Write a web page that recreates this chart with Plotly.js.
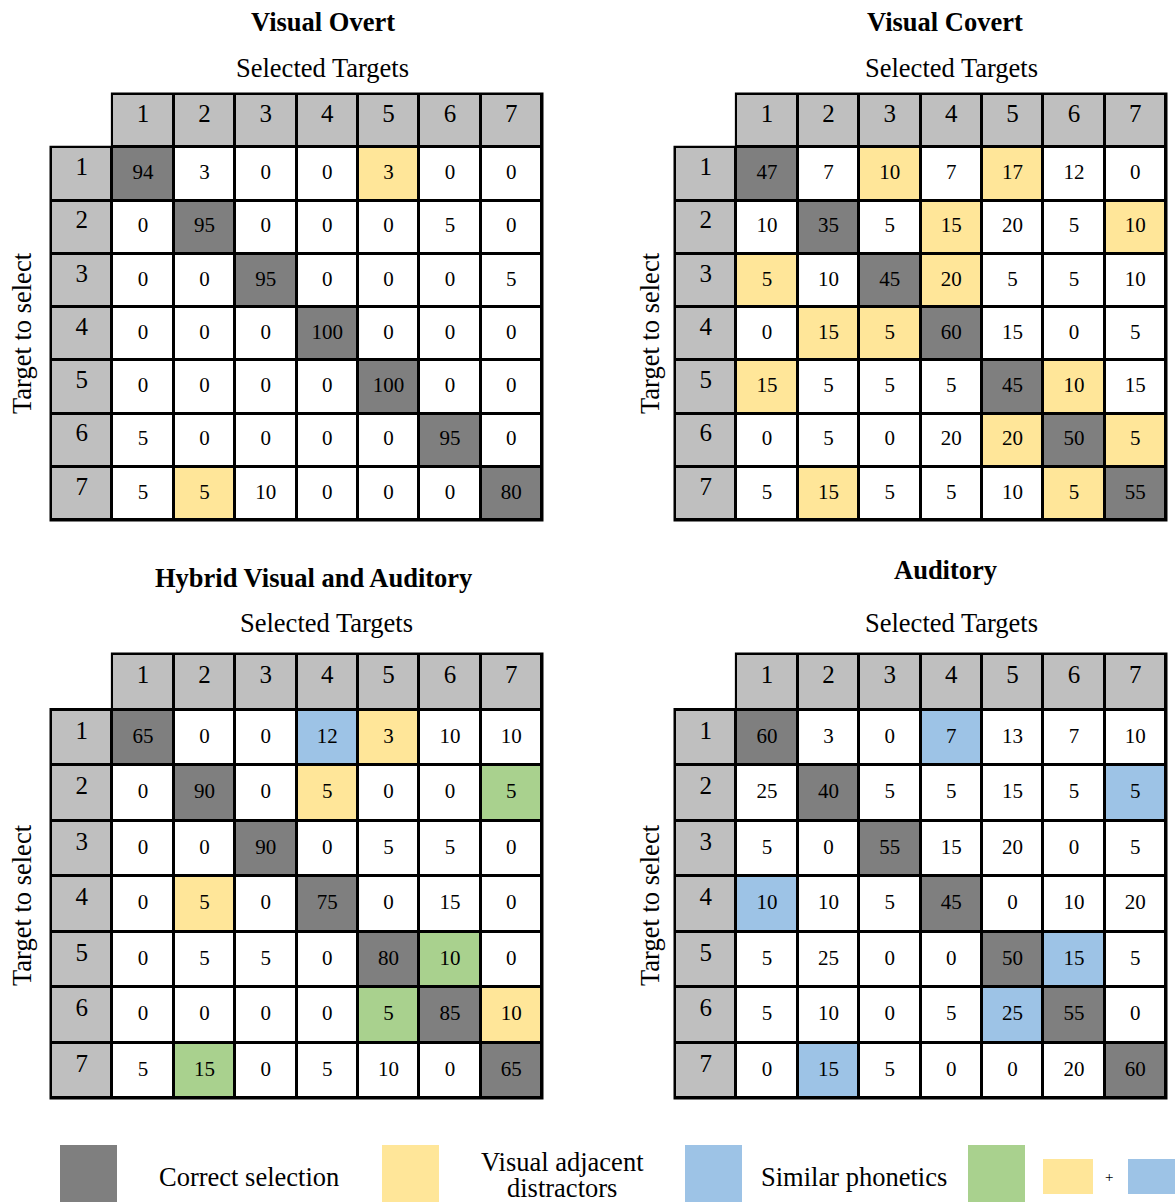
<!DOCTYPE html>
<html>
<head>
<meta charset="utf-8">
<script src="https://cdn.plot.ly/plotly-3.0.1.min.js"></script>
<style>html,body{margin:0;padding:0;background:#fff;}#chart{width:1175px;height:1202px;}</style>
</head>
<body>
<div id="chart"></div>
<script>
// ---------------- DATA ----------------
const selectedTargets = ['1','2','3','4','5','6','7'];
const targetsToSelect = ['1','2','3','4','5','6','7'];

const titles = ['Visual Overt', 'Visual Covert', 'Hybrid Visual and Auditory', 'Auditory'];

const visualOvert = [
  [94, 3, 0, 0, 3, 0, 0],
  [0, 95, 0, 0, 0, 5, 0],
  [0, 0, 95, 0, 0, 0, 5],
  [0, 0, 0, 100, 0, 0, 0],
  [0, 0, 0, 0, 100, 0, 0],
  [5, 0, 0, 0, 0, 95, 0],
  [5, 5, 10, 0, 0, 0, 80]
];
const visualCovert = [
  [47, 7, 10, 7, 17, 12, 0],
  [10, 35, 5, 15, 20, 5, 10],
  [5, 10, 45, 20, 5, 5, 10],
  [0, 15, 5, 60, 15, 0, 5],
  [15, 5, 5, 5, 45, 10, 15],
  [0, 5, 0, 20, 20, 50, 5],
  [5, 15, 5, 5, 10, 5, 55]
];
const hybrid = [
  [65, 0, 0, 12, 3, 10, 10],
  [0, 90, 0, 5, 0, 0, 5],
  [0, 0, 90, 0, 5, 5, 0],
  [0, 5, 0, 75, 0, 15, 0],
  [0, 5, 5, 0, 80, 10, 0],
  [0, 0, 0, 0, 5, 85, 10],
  [5, 15, 0, 5, 10, 0, 65]
];
const auditory = [
  [60, 3, 0, 7, 13, 7, 10],
  [25, 40, 5, 5, 15, 5, 5],
  [5, 0, 55, 15, 20, 0, 5],
  [10, 10, 5, 45, 0, 10, 20],
  [5, 25, 0, 0, 50, 15, 5],
  [5, 10, 0, 5, 25, 55, 0],
  [0, 15, 5, 0, 0, 20, 60]
];

// cell categories: C = correct, V = visual adjacent, P = similar phonetics, H = visual + phonetic, '' = none
const marksOvert = [
  ['C','','','','V','',''],
  ['','C','','','','',''],
  ['','','C','','','',''],
  ['','','','C','','',''],
  ['','','','','C','',''],
  ['','','','','','C',''],
  ['','V','','','','','C']
];
const marksCovert = [
  ['C','','V','','V','',''],
  ['','C','','V','','','V'],
  ['V','','C','V','','',''],
  ['','V','V','C','','',''],
  ['V','','','','C','V',''],
  ['','','','','V','C','V'],
  ['','V','','','','V','C']
];
const marksHybrid = [
  ['C','','','P','V','',''],
  ['','C','','V','','','H'],
  ['','','C','','','',''],
  ['','V','','C','','',''],
  ['','','','','C','H',''],
  ['','','','','H','C','V'],
  ['','H','','','','','C']
];
const marksAuditory = [
  ['C','','','P','','',''],
  ['','C','','','','','P'],
  ['','','C','','','',''],
  ['P','','','C','','',''],
  ['','','','','C','P',''],
  ['','','','','P','C',''],
  ['','P','','','','','C']
];

const legendLabels = ['Correct selection', 'Visual adjacent', 'distractors', 'Similar phonetics', '+'];

// ---------------- STYLE ----------------
const W = 1175, H = 1202;
const FONT = 'Liberation Serif, Times New Roman, serif';
const COL = {white:'#ffffff', C:'#7f7f7f', V:'#ffe699', P:'#9dc3e6', H:'#a9d18e', head:'#bfbfbf'};
const CODE = {'':0, C:1, V:2, P:3, H:4, head:5};
const colorscale = [];
[COL.white, COL.C, COL.V, COL.P, COL.H, COL.head].forEach((c, i) => {
  colorscale.push([i/6, c]); colorscale.push([(i+1)/6, c]);
});

const panels = [
  {values: visualOvert,  marks: marksOvert,    gx:[51,542],  gy:[94,520],   t:[323,22],  s:[322,68],  yl:[22,333]},
  {values: visualCovert, marks: marksCovert,   gx:[675,1166], gy:[94,520],  t:[945,22],  s:[951,68],  yl:[650,333]},
  {values: hybrid,       marks: marksHybrid,   gx:[51,542],  gy:[654,1098], t:[313,578], s:[326,623], yl:[22,905]},
  {values: auditory,     marks: marksAuditory, gx:[675,1166], gy:[654,1098], t:[945,570], s:[951,623], yl:[650,905]}
];

const BORDER = 3;
const data = [];
const layout = {
  width: W, height: H,
  margin: {l:0, r:0, t:0, b:0},
  paper_bgcolor: '#ffffff',
  plot_bgcolor: '#000000',
  showlegend: false,
  font: {family: FONT, color: '#000'},
  annotations: [],
  shapes: []
};

const px2x = p => p / W;
const px2y = p => 1 - p / H;

panels.forEach((p, k) => {
  const n = k + 1;
  const xa = 'x' + (n === 1 ? '' : n), ya = 'y' + (n === 1 ? '' : n);
  const cw = (p.gx[1] - p.gx[0]) / 8, ch = (p.gy[1] - p.gy[0]) / 8;
  const ex = (BORDER/2) / cw, ey = (BORDER/2) / ch;

  const z = [];
  for (let r = 0; r < 8; r++) {
    const row = [];
    for (let c = 0; c < 8; c++) {
      if (r === 0 && c === 0) row.push(CODE['']);
      else if (r === 0 || c === 0) row.push(CODE.head);
      else row.push(CODE[p.marks[r-1][c-1]]);
    }
    z.push(row);
  }
  const idx = [0,1,2,3,4,5,6,7];
  data.push({
    type: 'heatmap', xaxis: xa, yaxis: ya,
    x: idx, y: idx, z: z,
    zmin: -0.5, zmax: 5.5, colorscale: colorscale, showscale: false,
    xgap: BORDER, ygap: BORDER, hoverinfo: 'skip'
  });

  const bx = [], by = [], bt = [];
  p.values.forEach((row, r) => row.forEach((v, c) => { bx.push(c+1); by.push(r+1); bt.push(String(v)); }));
  data.push({
    type: 'scatter', mode: 'text', xaxis: xa, yaxis: ya,
    x: bx, y: by, text: bt, textposition: 'middle center',
    textfont: {family: FONT, size: 21, color: '#000'}, hoverinfo: 'skip', cliponaxis: false
  });

  const lift = 5 / ch;
  const hx = [], hy = [], ht = [];
  selectedTargets.forEach((s, c) => { hx.push(c+1); hy.push(0 - lift); ht.push(s); });
  targetsToSelect.forEach((s, r) => { hx.push(0); hy.push(r+1 - lift); ht.push(s); });
  data.push({
    type: 'scatter', mode: 'text', xaxis: xa, yaxis: ya,
    x: hx, y: hy, text: ht, textposition: 'middle center',
    textfont: {family: FONT, size: 25, color: '#000'}, hoverinfo: 'skip', cliponaxis: false
  });

  const axCommon = {showgrid:false, zeroline:false, showticklabels:false, ticks:'', showline:false, fixedrange:true};
  layout['xaxis' + (n === 1 ? '' : n)] = Object.assign({}, axCommon, {
    domain: [px2x(p.gx[0] - BORDER/2), px2x(p.gx[1] + BORDER/2)],
    range: [-0.5 - ex, 7.5 + ex], anchor: ya
  });
  layout['yaxis' + (n === 1 ? '' : n)] = Object.assign({}, axCommon, {
    domain: [px2y(p.gy[1] + BORDER/2), px2y(p.gy[0] - BORDER/2)],
    range: [7.5 + ey, -0.5 - ey], anchor: xa
  });

  // blank out the outer border around the empty top-left corner (paper coords)
  layout.shapes.push({
    type: 'rect', xref: 'paper', yref: 'paper', layer: 'above',
    x0: px2x(p.gx[0] - BORDER), x1: px2x(p.gx[0] + cw - BORDER/2),
    y0: px2y(p.gy[0] + ch - BORDER/2), y1: px2y(p.gy[0] - BORDER),
    fillcolor: '#ffffff', line: {width: 0}
  });

  layout.annotations.push(
    {text: '<b>' + titles[k] + '</b>', xref:'paper', yref:'paper', x: px2x(p.t[0]), y: px2y(p.t[1]),
     xanchor:'center', yanchor:'middle', showarrow:false, font:{family:FONT, size:26.5, color:'#000'}},
    {text: 'Selected Targets', xref:'paper', yref:'paper', x: px2x(p.s[0]), y: px2y(p.s[1]),
     xanchor:'center', yanchor:'middle', showarrow:false, font:{family:FONT, size:26.5, color:'#000'}},
    {text: 'Target to select', xref:'paper', yref:'paper', x: px2x(p.yl[0]), y: px2y(p.yl[1]),
     xanchor:'center', yanchor:'middle', textangle:-90, showarrow:false, font:{family:FONT, size:26.5, color:'#000'}}
  );
});

// ---------------- LEGEND ----------------
const legendBoxes = [
  {x0:60, x1:117, y0:1145, y1:1210, c:COL.C},
  {x0:382, x1:439, y0:1145, y1:1210, c:COL.V},
  {x0:685, x1:742, y0:1145, y1:1210, c:COL.P},
  {x0:968, x1:1025, y0:1145, y1:1210, c:COL.H},
  {x0:1043, x1:1093, y0:1159, y1:1194, c:COL.V},
  {x0:1128, x1:1180, y0:1159, y1:1194, c:COL.P}
];
legendBoxes.forEach(b => layout.shapes.push({
  type:'rect', xref:'paper', yref:'paper',
  x0: px2x(b.x0), x1: px2x(b.x1), y0: px2y(b.y1), y1: px2y(b.y0),
  fillcolor: b.c, line:{width:0}
}));
const legendPos = [[249,1177,26.5], [562,1162,26.5], [562,1188,26.5], [854,1177,26.5], [1109,1177,15]];
legendLabels.forEach((t, i) => layout.annotations.push({
  text: t, xref:'paper', yref:'paper', x: px2x(legendPos[i][0]), y: px2y(legendPos[i][1]),
  xanchor:'center', yanchor:'middle', showarrow:false, font:{family:FONT, size:legendPos[i][2], color:'#000'}
}));

Plotly.newPlot('chart', data, layout, {staticPlot: true, displayModeBar: false});
</script>
</body>
</html>
